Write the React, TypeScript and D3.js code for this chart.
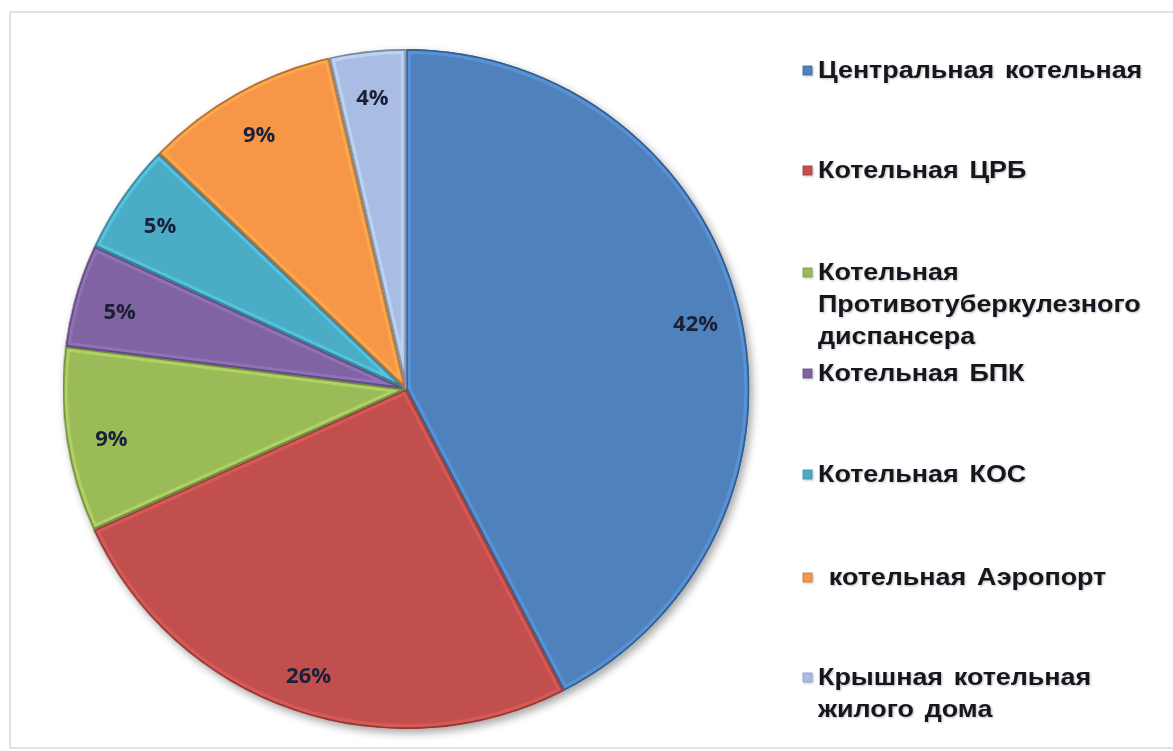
import React from "react";
import * as d3 from "d3";

const categories = [
  "Центральная котельная",
  "Котельная ЦРБ",
  "Котельная Противотуберкулезного диспансера",
  "Котельная БПК",
  "Котельная КОС",
  "котельная Аэропорт",
  "Крышная котельная жилого дома",
];
const values = [42.4, 25.8, 8.8, 4.9, 5.3, 9.2, 3.6];
const labels = ["42%", "26%", "9%", "5%", "5%", "9%", "4%"];
const colors = ["#4F81BD", "#C0504D", "#9BBB59", "#8064A2", "#4BACC6", "#F79646", "#A8BCE4"];
const legendLines = [
  ["Центральная котельная"],
  ["Котельная ЦРБ"],
  ["Котельная", "Противотуберкулезного", "диспансера"],
  ["Котельная БПК"],
  ["Котельная КОС"],
  [" котельная Аэропорт"],
  ["Крышная котельная", "жилого дома"],
];
const legendY = [70, 170, 272, 373, 474, 577, 677];

export default function App() {
  const W = 1173, H = 751;
  const cx = 406, cy = 389, r = 340, labelR = 298;
  const pie = d3.pie<number>().sort(null).value((d) => d);
  const arcs = pie(values);
  const arc = d3.arc<d3.PieArcDatum<number>>().innerRadius(0).outerRadius(r);
  const labelArc = d3.arc<d3.PieArcDatum<number>>().innerRadius(labelR).outerRadius(labelR);

  return (
    <svg width={W} height={H} style={{ position: "absolute", left: 0, top: 0, background: "#fff" }}>
      <defs>
        <filter id="shadow" x="-10%" y="-10%" width="130%" height="130%">
          <feGaussianBlur in="SourceAlpha" stdDeviation="4" />
          <feOffset dx="3" dy="4" result="o" />
          <feComponentTransfer>
            <feFuncA type="linear" slope="0.35" />
          </feComponentTransfer>
          <feMerge>
            <feMergeNode />
            <feMergeNode in="SourceGraphic" />
          </feMerge>
        </filter>
        <filter id="tshadow" x="-10%" y="-30%" width="120%" height="160%">
          <feGaussianBlur in="SourceAlpha" stdDeviation="1.2" />
          <feOffset dx="1" dy="1" result="o" />
          <feComponentTransfer>
            <feFuncA type="linear" slope="0.25" />
          </feComponentTransfer>
          <feMerge>
            <feMergeNode />
            <feMergeNode in="SourceGraphic" />
          </feMerge>
        </filter>
        {arcs.map((a, i) => (
          <clipPath id={`clip${i}`} key={i}>
            <path d={arc(a) || ""} />
          </clipPath>
        ))}
      </defs>
      <rect x={10} y={12} width={1200} height={736} fill="#fff" stroke="#e2e2e2" strokeWidth={2} />
      <g transform={`translate(${cx},${cy}) scale(1.01,1)`} filter="url(#shadow)">
        {arcs.map((a, i) => {
          const c = d3.color(colors[i])!;
          return (
            <g key={i}>
              <path d={arc(a) || ""} fill={colors[i]} />
              <path
                d={arc(a) || ""}
                fill="none"
                stroke={c.brighter(0.7).toString()}
                strokeOpacity={0.45}
                strokeWidth={10}
                clipPath={`url(#clip${i})`}
              />
              <path
                d={arc(a) || ""}
                fill="none"
                stroke={c.darker(1.2).toString()}
                strokeOpacity={0.85}
                strokeWidth={3.5}
                strokeLinejoin="round"
                clipPath={`url(#clip${i})`}
              />
            </g>
          );
        })}
      </g>
      <g transform={`translate(${cx},${cy})`}>
        {arcs.map((a, i) => {
          const [x, y] = labelArc.centroid(a);
          return (
            <text
              key={i}
              x={x}
              y={y + 3}
              textAnchor="middle"
              dominantBaseline="central"
              fontFamily="'Open Sans', 'Noto Sans', sans-serif"
              fontWeight={700}
              fontSize={22}
              fill="#1a2038"
            >
              {labels[i]}
            </text>
          );
        })}
      </g>
      <g filter="url(#tshadow)">
        {legendLines.map((lines, i) => (
          <g key={i}>
            <rect x={803} y={legendY[i] - 4} width={9} height={9} fill={colors[i]} stroke={d3.color(colors[i])!.darker(0.6).toString()} strokeWidth={0.8} />
            {lines.map((ln, j) => (
              <text
                key={j}
                transform={`translate(818,${legendY[i] + j * 32}) scale(1.12,1)`}
                dominantBaseline="central"
                fontFamily="'Liberation Sans', Arial, sans-serif"
                fontWeight={700}
                fontSize={24}
                fill="#15151f"
                style={{ whiteSpace: "pre", wordSpacing: "3px" }}
              >
                {ln}
              </text>
            ))}
          </g>
        ))}
      </g>
    </svg>
  );
}
